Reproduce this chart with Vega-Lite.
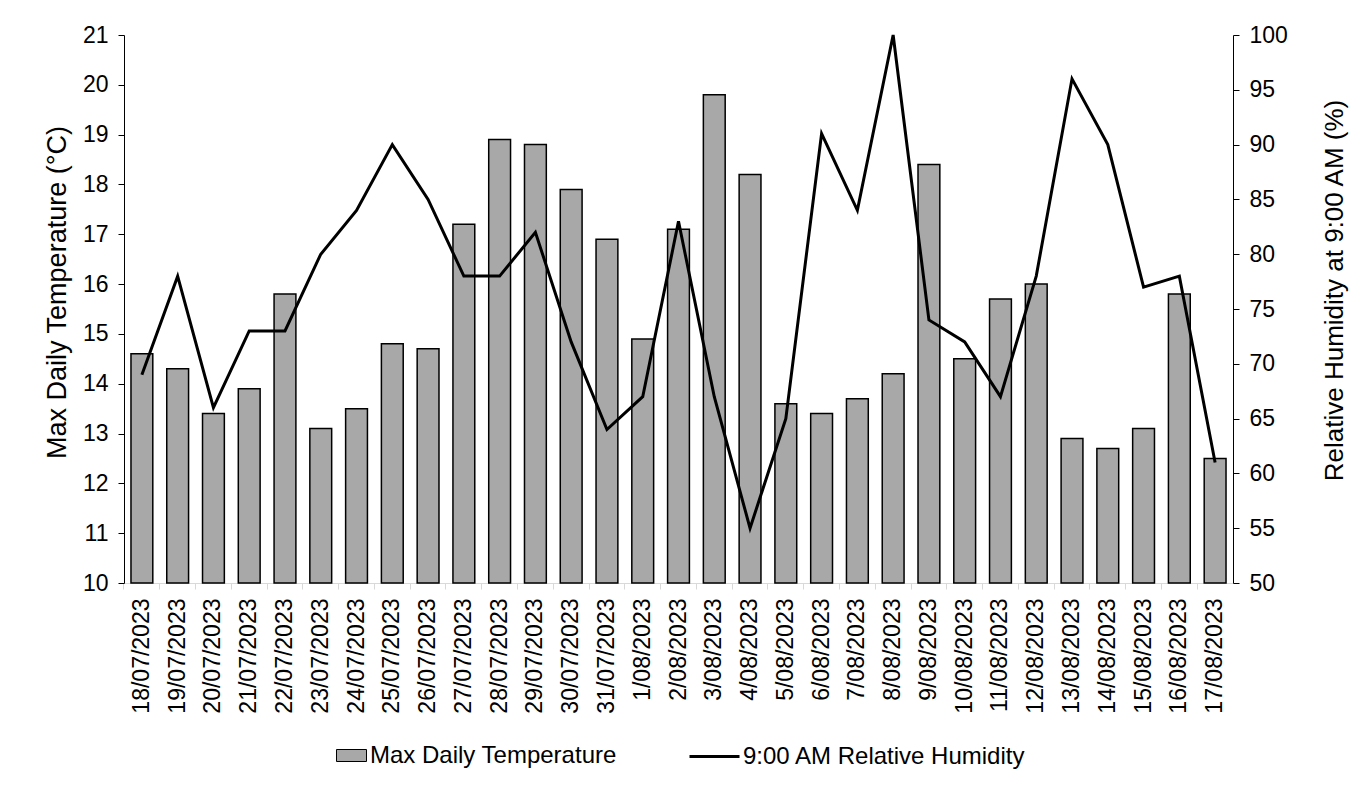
{
  "$schema": "https://vega.github.io/schema/vega-lite/v6.json",
  "width": 1109,
  "height": 548,
  "autosize": "none",
  "padding": {"left": 124, "top": 35, "right": 138, "bottom": 206},
  "background": "white",
  "config": {
    "font": "Liberation Sans",
    "view": {"stroke": null},
    "axis": {"grid": false, "labelColor": "#000000", "titleColor": "#000000", "titleFontWeight": "normal", "labelFont": "Liberation Sans", "titleFont": "Liberation Sans"},
    "legend": {"labelFont": "Liberation Sans", "labelColor": "#000000", "labelLimit": 0, "padding": 0}
  },
  "data": {
    "values": [
      {"date": "18/07/2023", "temp": 14.6, "hum": 69},
      {"date": "19/07/2023", "temp": 14.3, "hum": 78},
      {"date": "20/07/2023", "temp": 13.4, "hum": 66},
      {"date": "21/07/2023", "temp": 13.9, "hum": 73},
      {"date": "22/07/2023", "temp": 15.8, "hum": 73},
      {"date": "23/07/2023", "temp": 13.1, "hum": 80},
      {"date": "24/07/2023", "temp": 13.5, "hum": 84},
      {"date": "25/07/2023", "temp": 14.8, "hum": 90},
      {"date": "26/07/2023", "temp": 14.7, "hum": 85},
      {"date": "27/07/2023", "temp": 17.2, "hum": 78},
      {"date": "28/07/2023", "temp": 18.9, "hum": 78},
      {"date": "29/07/2023", "temp": 18.8, "hum": 82},
      {"date": "30/07/2023", "temp": 17.9, "hum": 72},
      {"date": "31/07/2023", "temp": 16.9, "hum": 64},
      {"date": "1/08/2023", "temp": 14.9, "hum": 67},
      {"date": "2/08/2023", "temp": 17.1, "hum": 83},
      {"date": "3/08/2023", "temp": 19.8, "hum": 67},
      {"date": "4/08/2023", "temp": 18.2, "hum": 55},
      {"date": "5/08/2023", "temp": 13.6, "hum": 65},
      {"date": "6/08/2023", "temp": 13.4, "hum": 91},
      {"date": "7/08/2023", "temp": 13.7, "hum": 84},
      {"date": "8/08/2023", "temp": 14.2, "hum": 100},
      {"date": "9/08/2023", "temp": 18.4, "hum": 74},
      {"date": "10/08/2023", "temp": 14.5, "hum": 72},
      {"date": "11/08/2023", "temp": 15.7, "hum": 67},
      {"date": "12/08/2023", "temp": 16.0, "hum": 78},
      {"date": "13/08/2023", "temp": 12.9, "hum": 96},
      {"date": "14/08/2023", "temp": 12.7, "hum": 90},
      {"date": "15/08/2023", "temp": 13.1, "hum": 77},
      {"date": "16/08/2023", "temp": 15.8, "hum": 78},
      {"date": "17/08/2023", "temp": 12.5, "hum": 61}
    ]
  },
  "layer": [
    {
      "mark": {"type": "bar", "stroke": "#000000", "strokeWidth": 1.5},
      "encoding": {
        "x": {
          "field": "date", "type": "ordinal", "sort": null,
          "scale": {"paddingInner": 0.39, "paddingOuter": 0.195},
          "axis": {"orient": "bottom", "title": null, "ticks": false, "domainColor": "#d9d9d9", "domainWidth": 1, "labelAngle": -90, "labelFontSize": 23, "labelPadding": 15}
        },
        "y": {
          "field": "temp", "type": "quantitative",
          "scale": {"domain": [10, 21], "nice": false, "zero": false},
          "axis": {"title": "Max Daily Temperature (°C)", "titleFontSize": 27, "titleX": -67, "titleY": 257, "titleAngle": -90, "titleAlign": "center", "titleBaseline": "middle", "values": [10,11,12,13,14,15,16,17,18,19,20,21], "labelFontSize": 23, "labelPadding": 10, "tickSize": 6, "domainColor": "#000000", "tickColor": "#000000"}
        },
        "y2": {"datum": 10},
        "fill": {
          "datum": "Max Daily Temperature", "type": "nominal",
          "scale": {"domain": ["Max Daily Temperature"], "range": ["#a8a8a8"]},
          "legend": {
            "title": null, "orient": "none", "legendX": 212, "legendY": 705, "direction": "horizontal",
            "labelFontSize": 24, "symbolSize": 900, "symbolType": "M-1,-0.4H1V0.4H-1Z", "symbolStrokeColor": "#000000", "symbolStrokeWidth": 1, "symbolOpacity": 1, "labelOffset": 3
          }
        }
      }
    },
    {
      "mark": {"type": "line", "strokeWidth": 3},
      "encoding": {
        "x": {
          "field": "date", "type": "ordinal", "sort": null,
          "axis": {"orient": "bottom", "title": null, "labels": false, "domain": false, "tickColor": "#d9d9d9", "tickSize": 6, "bandPosition": -0.32}
        },
        "y": {
          "field": "hum", "type": "quantitative",
          "scale": {"domain": [50, 100], "nice": false, "zero": false},
          "axis": {"orient": "right", "title": "Relative Humidity at 9:00 AM (%)", "titleFontSize": 26, "titleX": 101, "titleY": 255, "titleAngle": -90, "titleAlign": "center", "titleBaseline": "middle", "values": [50,55,60,65,70,75,80,85,90,95,100], "labelFontSize": 23, "labelPadding": 10, "tickSize": 6, "domainColor": "#000000", "tickColor": "#000000"}
        },
        "stroke": {
          "datum": "9:00 AM Relative Humidity", "type": "nominal",
          "scale": {"domain": ["9:00 AM Relative Humidity"], "range": ["#000000"]},
          "legend": {
            "title": null, "orient": "none", "legendX": 564, "legendY": 695, "direction": "horizontal",
            "labelFontSize": 24, "symbolSize": 2500, "symbolType": "stroke", "symbolStrokeWidth": 3, "labelOffset": 2
          }
        }
      }
    }
  ],
  "resolve": {"scale": {"y": "independent"}, "axis": {"x": "independent"}}
}
